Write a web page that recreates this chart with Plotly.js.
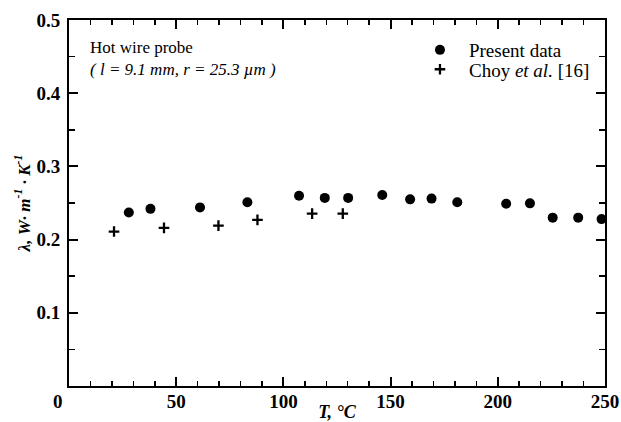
<!DOCTYPE html>
<html>
<head>
<meta charset="utf-8">
<script src="https://cdn.plot.ly/plotly-3.0.1.min.js"></script>
<style>html,body{margin:0;padding:0;background:#fff;}#chart{width:621px;height:422px;}</style>
</head>
<body>
<div id="chart"></div>
<script>
// Present data (hot wire probe)
const presentT = [27.9, 38.0, 61.1, 83.2, 107.3, 119.3, 130.2, 146.1, 159.1, 169.1, 181.1, 203.9, 215.0, 225.6, 237.5, 248.4];
const presentK = [0.237, 0.242, 0.244, 0.251, 0.260, 0.257, 0.257, 0.261, 0.255, 0.256, 0.251, 0.249, 0.2495, 0.230, 0.230, 0.228];
// Choy et al. [16]
const choyT = [21.0, 44.3, 69.7, 87.9, 113.4, 127.7];
const choyK = [0.211, 0.216, 0.219, 0.227, 0.2355, 0.2355];
// Tick labels
const xTickVals = [50, 100, 150, 200, 250];
const yTickVals = [0.1, 0.2, 0.3, 0.4, 0.5];

const serif = 'Liberation Serif';

const traces = [
  {
    x: presentT, y: presentK, mode: 'markers', type: 'scatter',
    name: 'Present data', legend: 'legend',
    marker: {symbol: 'circle', size: 10, color: '#000'}
  },
  {
    x: choyT, y: choyK, mode: 'markers', type: 'scatter',
    name: 'Choy <i>et al.</i> [16]', legend: 'legend2',
    marker: {symbol: 'cross-thin', size: 7.6, color: '#000', line: {color: '#000', width: 2.3}}
  }
];

const axisCommon = {
  showline: true, linecolor: '#000', linewidth: 2,
  mirror: 'ticks', ticks: 'inside', ticklen: 9, tickwidth: 2, tickcolor: '#000',
  showgrid: false, zeroline: false,
  tickfont: {family: serif, size: 19, color: '#000', weight: 700}
};

const legendCommon = {
  xanchor: 'left', yanchor: 'middle',
  bgcolor: 'rgba(0,0,0,0)', borderwidth: 0,
  font: {family: serif, size: 19, color: '#000'},
  itemwidth: 48
};

const layout = {
  width: 621, height: 422,
  margin: {l: 69, r: 16, t: 20, b: 36},
  paper_bgcolor: '#fff', plot_bgcolor: '#fff',
  showlegend: true,
  legend: Object.assign({}, legendCommon, {x: 0.638, y: 0.918}),
  legend2: Object.assign({}, legendCommon, {x: 0.638, y: 0.865}),
  xaxis: Object.assign({}, axisCommon, {
    range: [0, 250], tickvals: xTickVals,
    ticklabelstandoff: -3,
    minor: {dtick: 10, ticks: 'inside', ticklen: 5, tickwidth: 1.5, tickcolor: '#000', showgrid: false},
    title: {text: '<b><i>T, °C</i></b>', font: {family: serif, size: 18, color: '#000'}, standoff: 0}
  }),
  yaxis: Object.assign({}, axisCommon, {
    range: [0, 0.5], tickvals: yTickVals, tickformat: '.1f',
    ticklabelstandoff: 3,
    minor: {dtick: 0.05, ticks: 'inside', ticklen: 6, tickwidth: 1.5, tickcolor: '#000', showgrid: false},
    title: {text: '<b><i>λ, W· m<sup>-1</sup> · K<sup>-1</sup></i></b>', font: {family: serif, size: 17, color: '#000'}, standoff: 2}
  }),
  annotations: [
    {xref: 'paper', yref: 'paper', x: -0.02, y: -0.008, xanchor: 'center', yanchor: 'top',
     text: '<b>0</b>', showarrow: false, font: {family: serif, size: 19, color: '#000'}},
    {xref: 'paper', yref: 'paper', x: 0.0354, y: 0.955, xanchor: 'left', yanchor: 'top', align: 'left',
     text: 'Hot wire probe<br><i>( l = 9.1 mm, r = 25.3 µm )</i>', showarrow: false,
     font: {family: serif, size: 17, color: '#000'}}
  ]
};

Plotly.newPlot('chart', traces, layout, {displayModeBar: false, staticPlot: true});
</script>
</body>
</html>
